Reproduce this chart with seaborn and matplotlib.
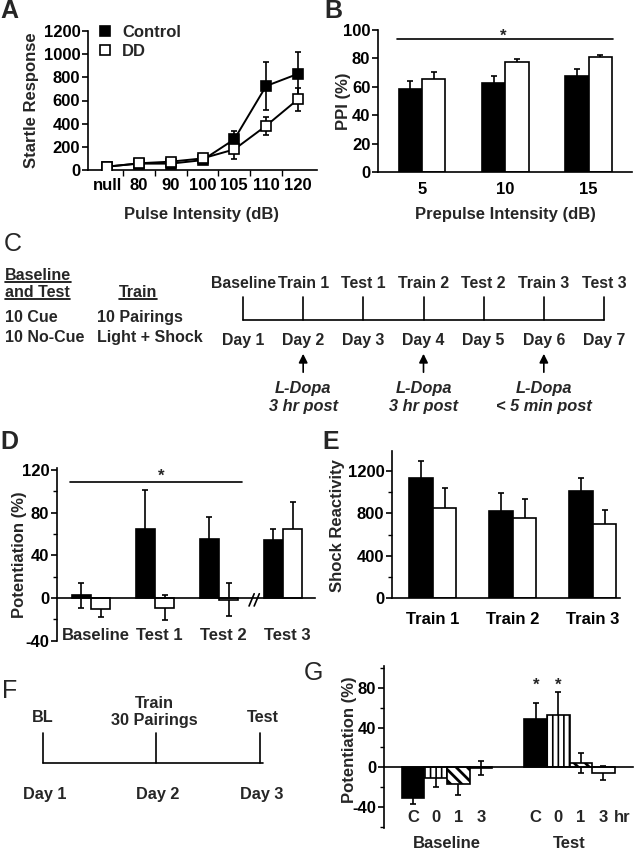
import numpy as np
import pandas as pd
import matplotlib
matplotlib.use("Agg")
import matplotlib.pyplot as plt
import seaborn as sns
from matplotlib.lines import Line2D
from matplotlib.ticker import FixedLocator

# ---------------- data ----------------
# Panel A
pulse_labels = ["null", "80", "90", "100", "105", "110", "120"]
ctrl_startle = [30, 55, 55, 85, 265, 725, 830]
ctrl_startle_err = [15, 15, 15, 20, 75, 205, 190]
dd_startle = [28, 58, 72, 100, 178, 382, 610]
dd_startle_err = [15, 15, 15, 20, 85, 78, 100]

# Panel B
prepulse_labels = ["5", "10", "15"]
ctrl_ppi = [58.5, 63.0, 67.8]
ctrl_ppi_err = [5.5, 4.6, 4.5]
dd_ppi = [65.3, 77.7, 80.8]
dd_ppi_err = [5.3, 1.9, 1.6]

# Panel C (protocol timeline)
timeline_events = ["Baseline", "Train 1", "Test 1", "Train 2", "Test 2", "Train 3", "Test 3"]
timeline_days = ["Day 1", "Day 2", "Day 3", "Day 4", "Day 5", "Day 6", "Day 7"]
ldopa_day_index = [1, 3, 5]
ldopa_notes = ["3 hr post", "3 hr post", "< 5 min post"]

# Panel D
session_labels = ["Baseline", "Test 1", "Test 2", "Test 3"]
ctrl_pot = [2.5, 65.0, 55.0, 54.0]
ctrl_pot_err = [12, 36, 21, 11]
dd_pot = [-10.0, -9.0, -1.5, 65.0]
dd_pot_err = [7.5, 12, 15.5, 25]

# Panel E
train_labels = ["Train 1", "Train 2", "Train 3"]
ctrl_shock = [1131, 825, 1014]
ctrl_shock_err = [165, 170, 123]
dd_shock = [853, 759, 697]
dd_shock_err = [190, 177, 135]

# Panel F
f_events = ["BL", "Train\n30 Pairings", "Test"]
f_days = ["Day 1", "Day 2", "Day 3"]

# Panel G
g_phases = ["Baseline", "Test"]
g_times = ["C", "0", "1", "3"]
g_ctrl = [-31.0, 48.6]
g_ctrl_err = [6, 16]
g_0hr = [-11.0, 52.7]
g_0hr_err = [8.5, 23]
g_1hr = [-17.0, 4.7]
g_1hr_err = [11, 10]
g_3hr = [-1.0, -6.0]
g_3hr_err = [7, 7]

# ---------------- style ----------------
sns.set_style("ticks")
plt.rcParams['font.family'] = ['Liberation Sans', 'DejaVu Sans']
plt.rcParams['font.weight'] = 'bold'
plt.rcParams['axes.labelweight'] = 'bold'
plt.rcParams['axes.unicode_minus'] = False
plt.rcParams['axes.linewidth'] = 1.2
plt.rcParams['xtick.major.width'] = 1.2
plt.rcParams['ytick.major.width'] = 1.2
plt.rcParams['xtick.minor.width'] = 1.0
plt.rcParams['ytick.minor.width'] = 1.0
plt.rcParams['hatch.linewidth'] = 1.2
plt.rcParams['xtick.color'] = 'black'
plt.rcParams['ytick.color'] = 'black'
plt.rcParams['axes.edgecolor'] = 'black'

W, H = 634, 852
fig = plt.figure(figsize=(W / 100, H / 100), dpi=100)
FS = 12


def px_axes(l, r, t, b):
    ax = fig.add_axes([l / W, 1 - b / H, (r - l) / W, (b - t) / H])
    ax.set_facecolor('none')
    return ax


def style_axes(ax):
    for s in ['top', 'right']:
        ax.spines[s].set_visible(False)
    ax.tick_params(axis='y', direction='out', length=4, pad=1.5, labelsize=FS)
    ax.tick_params(axis='y', which='minor', direction='out', length=3)
    ax.tick_params(axis='x', labelsize=FS)


def add_err(ax, bars, vals_list, errs_list):
    for cont, vals, errs in zip(bars, vals_list, errs_list):
        xs = [p.get_x() + p.get_width() / 2 for p in cont.patches]
        ax.errorbar(xs, vals, yerr=errs, fmt='none', ecolor='black', elinewidth=1.2,
                    capsize=2.5, capthick=1.2, zorder=0.9)


# ---------------- Panel A ----------------
axA = px_axes(88, 317, 31, 170)
xa = np.arange(len(pulse_labels))
for vals, errs, face in [(ctrl_startle, ctrl_startle_err, 'black'),
                         (dd_startle, dd_startle_err, 'white')]:
    axA.errorbar(xa, vals, yerr=errs, fmt='none', ecolor='black', elinewidth=1.2,
                 capsize=2.5, capthick=1.2, zorder=2)
    sns.lineplot(x=xa, y=vals, ax=axA, color='black', lw=1.4, marker='s', markersize=6.5,
                 markerfacecolor=face, markeredgecolor='black', markeredgewidth=1.2, zorder=3)
axA.set_xlim(-0.6, 6.6)
axA.set_ylim(0, 1200)
axA.set_yticks(np.arange(0, 1201, 200))
axA.set_xticks(xa)
axA.set_xticklabels(pulse_labels)
axA.xaxis.set_minor_locator(FixedLocator(xa[:-1] + 0.5))
style_axes(axA)
axA.tick_params(axis='x', which='major', length=0, pad=6)
axA.tick_params(axis='x', which='minor', direction='out', length=4)
axA.set_xlabel('')
axA.set_ylabel('Startle Response', fontsize=FS)
axA.yaxis.set_label_coords(-0.215, 0.5)
handles = [Line2D([], [], marker='s', ls='none', mfc='black', mec='black', ms=7.5, mew=1.2),
           Line2D([], [], marker='s', ls='none', mfc='white', mec='black', ms=7.5, mew=1.2)]
axA.legend(handles, ['Control', 'DD'], loc='upper left', bbox_to_anchor=(0.01, 1.09),
           frameon=False, handletextpad=0.5, borderaxespad=0, labelspacing=0.25,
           fontsize=FS, handlelength=1.0)

# ---------------- Panel B ----------------
axB = px_axes(378, 632, 30, 172)
dfB = pd.DataFrame({'prepulse': prepulse_labels * 2,
                    'group': ['Control'] * 3 + ['DD'] * 3,
                    'ppi': ctrl_ppi + dd_ppi})
sns.barplot(data=dfB, x='prepulse', y='ppi', hue='group', palette=['black', 'white'],
            edgecolor='black', linewidth=1.2, width=0.56, errorbar=None, legend=False,
            saturation=1, ax=axB)
add_err(axB, list(axB.containers), [ctrl_ppi, dd_ppi], [ctrl_ppi_err, dd_ppi_err])
axB.set_xlim(-0.53, 2.52)
axB.set_ylim(0, 100)
axB.set_yticks(np.arange(0, 101, 20))
style_axes(axB)
axB.tick_params(axis='x', length=0, pad=7)
axB.set_xlabel('')
axB.set_ylabel('PPI (%)', fontsize=FS)
axB.yaxis.set_label_coords(-0.108, 0.5)
axB.plot([-0.3, 2.29], [93.4, 93.4], color='black', lw=1.2, clip_on=False)
axB.text(0.97, 95.5, '*', ha='center', va='center', fontsize=FS, clip_on=False)

# ---------------- Panel D ----------------
axD = px_axes(57, 315, 467.8, 640.7)
dfD = pd.DataFrame({'session': session_labels * 2,
                    'group': ['Control'] * 4 + ['DD'] * 4,
                    'pot': ctrl_pot + dd_pot})
sns.barplot(data=dfD, x='session', y='pot', hue='group', palette=['black', 'white'],
            edgecolor='black', linewidth=1.2, width=0.6, errorbar=None, legend=False,
            saturation=1, ax=axD)
add_err(axD, list(axD.containers), [ctrl_pot, dd_pot], [ctrl_pot_err, dd_pot_err])
axD.set_xlim(-0.53, 3.5)
axD.set_ylim(-40, 122)
axD.set_yticks([-40, 0, 40, 80, 120])
axD.yaxis.set_minor_locator(FixedLocator([-20, 20, 60, 100]))
style_axes(axD)
axD.spines['bottom'].set_position(('data', 0))
axD.tick_params(axis='x', length=0, labelbottom=False)
axD.set_xlabel('')
axD.set_ylabel('Potentiation (%)', fontsize=FS)
axD.yaxis.set_label_coords(-0.115, 0.495)
for i, lab in enumerate(session_labels):
    axD.text(i + 0.07, -35.5, lab, ha='center', va='center', fontsize=FS)
axD.plot([-0.33, 2.36], [109, 109], color='black', lw=1.2)
axD.text(1.1, 114.5, '*', ha='center', va='center', fontsize=FS)
for off in [0.0, 0.08]:
    axD.plot([2.47 + off, 2.55 + off], [-7.5, 4.0], color='black', lw=1.2)

# ---------------- Panel E ----------------
axE = px_axes(392, 620, 451, 598)
dfE = pd.DataFrame({'train': train_labels * 2,
                    'group': ['Control'] * 3 + ['DD'] * 3,
                    'shock': ctrl_shock + dd_shock})
sns.barplot(data=dfE, x='train', y='shock', hue='group', palette=['black', 'white'],
            edgecolor='black', linewidth=1.2, width=0.59, errorbar=None, legend=False,
            saturation=1, ax=axE)
add_err(axE, list(axE.containers), [ctrl_shock, dd_shock], [ctrl_shock_err, dd_shock_err])
axE.set_xlim(-0.51, 2.34)
axE.set_ylim(0, 1390)
axE.set_yticks([0, 400, 800, 1200])
axE.yaxis.set_minor_locator(FixedLocator([200, 600, 1000]))
style_axes(axE)
axE.tick_params(axis='x', length=0, pad=10)
axE.set_xlabel('')
axE.set_ylabel('Shock Reactivity', fontsize=FS)
axE.yaxis.set_label_coords(-0.205, 0.49)

# ---------------- Panel G ----------------
axG = px_axes(384, 633, 666, 828)
dfG = pd.DataFrame({'phase': g_phases * 4,
                    'time': [t for t in g_times for _ in g_phases],
                    'pot': g_ctrl + g_0hr + g_1hr + g_3hr})
sns.barplot(data=dfG, x='phase', y='pot', hue='time', hue_order=g_times,
            palette=['black', 'white', 'white', 'white'], edgecolor='black', linewidth=1.2,
            width=0.735, errorbar=None, legend=False, saturation=1, ax=axG)
g_bars = list(axG.containers)
hatches = [None, '|||', '\\\\\\', None]
hatch_lw = [1.0, 1.2, 2.0, 1.0]
for cont, hat, hlw in zip(g_bars, hatches, hatch_lw):
    for p in cont.patches:
        if hat:
            p.set_hatch(hat)
            if hasattr(p, 'set_hatch_linewidth'):
                p.set_hatch_linewidth(hlw)
add_err(axG, g_bars, [g_ctrl, g_0hr, g_1hr, g_3hr], [g_ctrl_err, g_0hr_err, g_1hr_err, g_3hr_err])
axG.set_xlim(-0.514, 1.518)
axG.set_ylim(-61, 102)
axG.set_yticks([-40, 0, 40, 80])
axG.yaxis.set_minor_locator(FixedLocator([-60, -20, 20, 60, 100]))
style_axes(axG)
axG.spines['bottom'].set_position(('data', 0))
axG.tick_params(axis='x', length=0, labelbottom=False)
axG.set_xlabel('')
axG.set_ylabel('Potentiation (%)', fontsize=FS)
axG.yaxis.set_label_coords(-0.11, 0.543)
for cont, t in zip(g_bars, g_times):
    for p in cont.patches:
        axG.text(p.get_x() + p.get_width() / 2, -50, t, ha='center', va='center', fontsize=FS)
axG.text(1.43, -50, 'hr', ha='center', va='center', fontsize=FS)
for j, ph in enumerate(g_phases):
    axG.text(j, -76.5, ph, ha='center', va='center', fontsize=FS, clip_on=False)
for cont in g_bars[:2]:
    p = cont.patches[1]
    axG.text(p.get_x() + p.get_width() / 2, 82.5, '*', ha='center', va='center', fontsize=FS)

# ---------------- overlay: labels, timelines ----------------
ov = fig.add_axes([0, 0, 1, 1])
ov.set_xlim(0, W)
ov.set_ylim(H, 0)
ov.axis('off')
ov.set_facecolor('none')

# panel letters
for lab, x, y, wt in [('A', 9, 11, 'bold'), ('B', 333, 11, 'bold'), ('C', 13, 244, 'normal'),
                      ('D', 9, 442, 'bold'), ('E', 331, 442, 'bold'),
                      ('F', 10, 691, 'normal'), ('G', 313, 673, 'normal')]:
    ov.text(x, y, lab, ha='center', va='center', fontsize=18, fontweight=wt)

# x axis titles for A and B
ov.text(202, 214, 'Pulse Intensity (dB)', ha='center', va='center', fontsize=FS)
ov.text(505, 214, 'Prepulse Intensity (dB)', ha='center', va='center', fontsize=FS)

# panel C left block
LFS = 11.5
ul_texts = []
ul_texts.append(ov.text(5, 280, 'Baseline', ha='left', va='baseline', fontsize=LFS))
ul_texts.append(ov.text(5, 297, 'and Test', ha='left', va='baseline', fontsize=LFS))
ov.text(5, 322, '10 Cue', ha='left', va='baseline', fontsize=LFS)
ov.text(5, 342, '10 No-Cue', ha='left', va='baseline', fontsize=LFS)
ul_texts.append(ov.text(138, 297, 'Train', ha='center', va='baseline', fontsize=LFS))
ov.text(97, 322, '10 Pairings', ha='left', va='baseline', fontsize=LFS)
ov.text(97, 342, 'Light + Shock', ha='left', va='baseline', fontsize=LFS)

# panel C timeline
TFS = 11.4
ev_x = np.linspace(243, 604, len(timeline_events))
for x, ev, day in zip(ev_x, timeline_events, timeline_days):
    ov.text(x, 283, ev, ha='center', va='center', fontsize=TFS)
    ov.plot([x, x], [297, 320], color='black', lw=1.2)
    ov.text(x, 340, day, ha='center', va='center', fontsize=TFS)
ov.plot([ev_x[0], ev_x[-1]], [320, 320], color='black', lw=1.2)
for idx, note in zip(ldopa_day_index, ldopa_notes):
    x = ev_x[idx]
    ov.annotate('', xy=(x, 351), xytext=(x, 375),
                arrowprops=dict(arrowstyle='-|>', color='black', lw=1.2, mutation_scale=13))
    ov.text(x, 388, 'L-Dopa', ha='center', va='center', fontsize=11.8, style='italic')
    ov.text(x, 406, note, ha='center', va='center', fontsize=11.8, style='italic')

# panel F timeline
FFS = 11.7
f_x = [43, 156, 260]
f_label_x = [43, 154, 263]
f_label_y = [717, 712, 717]
f_day_x = [45, 158, 262]
for x, lx, ly, ev, dx, day in zip(f_x, f_label_x, f_label_y, f_events, f_day_x, f_days):
    ov.text(lx, ly, ev, ha='center', va='center', fontsize=FFS, linespacing=1.15)
    ov.plot([x, x], [733, 763], color='black', lw=1.2)
    ov.text(dx, 794, day, ha='center', va='center', fontsize=FFS)
ov.plot([f_x[0], 263], [763, 763], color='black', lw=1.2)

# underlines sized to the rendered text
fig.canvas.draw()
renderer = fig.canvas.get_renderer()
inv = ov.transData.inverted()
for t in ul_texts:
    bb = t.get_window_extent(renderer)
    (x0, _), (x1, _) = inv.transform([[bb.x0, bb.y0], [bb.x1, bb.y1]])
    yb = t.get_position()[1] + 2
    ov.plot([x0, x1], [yb, yb], color='black', lw=1.2)

fig.savefig('out.png', dpi=100, facecolor='white')
